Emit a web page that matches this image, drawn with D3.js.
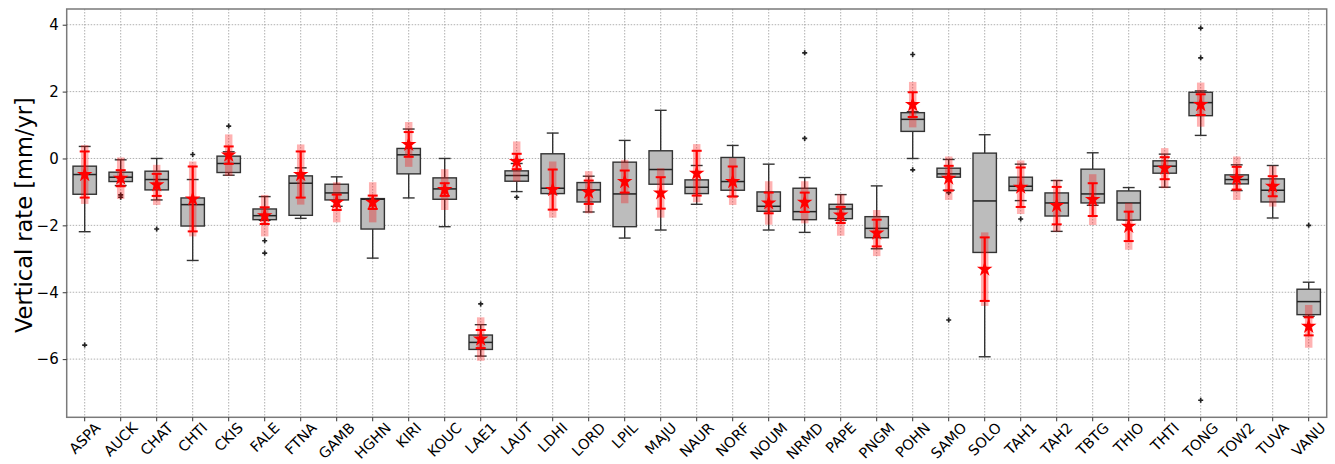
<!DOCTYPE html>
<html>
<head>
<meta charset="utf-8">
<script src="https://cdn.jsdelivr.net/npm/d3@7"></script>
<style>
  body { margin: 0; background: #fff; }
  text { font-family: "DejaVu Sans", sans-serif; fill: #000; }
</style>
</head>
<body>
<div id="figure_area"></div>
<script>
// ----- ----- ----- ----- ----- ----- ----- ----- -----
// DATA
var stations = ["ASPA", "AUCK", "CHAT", "CHTI", "CKIS", "FALE", "FTNA", "GAMB", "HGHN", "KIRI",
    "KOUC", "LAE1", "LAUT", "LDHI", "LORD", "LPIL", "MAJU", "NAUR", "NORF", "NOUM",
    "NRMD", "PAPE", "PNGM", "POHN", "SAMO", "SOLO", "TAH1", "TAH2", "TBTG", "THIO",
    "THTI", "TONG", "TOW2", "TUVA", "VANU"];

// boxplot (lower whisker, q1, median, q3, upper whisker)
var whiskLow = [-2.19, -0.81, -1.24, -3.05, -0.50, -1.85, -1.79, -1.43, -2.98, -1.18,
    -2.04, -5.91, -0.99, -1.05, -1.60, -2.38, -2.14, -1.37, -1.13, -2.14,
    -2.21, -1.85, -2.70, 0.00, -0.95, -5.93, -1.26, -2.18, -1.40, -1.84,
    -0.86, 0.69, -0.96, -1.78, -4.72];
var q1 = [-1.07, -0.69, -0.94, -2.02, -0.42, -1.83, -1.70, -1.24, -2.11, -0.46,
    -1.22, -5.71, -0.68, -1.05, -1.30, -2.04, -0.77, -1.05, -0.95, -1.58,
    -1.83, -1.80, -2.37, 0.81, -0.56, -2.81, -0.96, -1.72, -1.33, -1.84,
    -0.44, 1.28, -0.76, -1.30, -4.67];
var median = [-0.48, -0.56, -0.63, -1.38, -0.15, -1.71, -0.74, -1.03, -1.22, 0.11,
    -0.91, -5.50, -0.51, -0.89, -0.94, -1.06, -0.33, -0.86, -0.69, -1.43,
    -1.59, -1.51, -2.09, 1.17, -0.46, -1.27, -0.83, -1.33, -1.06, -1.33,
    -0.23, 1.67, -0.63, -0.95, -4.28];
var q3 = [-0.23, -0.41, -0.38, -1.18, 0.07, -1.51, -0.52, -0.77, -1.20, 0.30,
    -0.58, -5.28, -0.37, 0.14, -0.72, -0.11, 0.23, -0.64, 0.03, -1.00,
    -0.89, -1.37, -1.74, 1.37, -0.29, 0.16, -0.56, -1.03, -0.32, -0.97,
    -0.07, 1.98, -0.49, -0.61, -3.91];
var whiskHigh = [0.36, -0.04, 0.00, -0.63, 0.20, -1.14, -0.28, -0.55, -1.20, 0.88,
    0.00, -4.97, -0.15, 0.76, -0.53, 0.54, 1.44, -0.21, 0.39, -0.17,
    -0.57, -1.08, -0.82, 1.40, -0.03, 0.71, -0.17, -0.66, 0.17, -0.87,
    0.13, 2.02, -0.19, -0.21, -3.70];
var outliers = [[-5.58], [-1.09, -1.16], [-2.11], [0.12], [0.97], [-2.46, -2.83], [], [], [], [],
    [], [-4.35], [-1.16], [], [], [], [], [], [], [],
    [3.16, 0.60], [], [], [3.11, -0.34], [-4.83, -1.02], [], [-1.81], [], [], [],
    [], [3.90, 3.01, -7.23], [], [], [-2.00]];

// estimated rate (star) and its two uncertainties
var rate = [-0.48, -0.59, -0.79, -1.21, 0.10, -1.71, -0.48, -1.31, -1.31, 0.42,
    -0.93, -5.40, -0.09, -0.93, -1.01, -0.69, -1.03, -0.44, -0.69, -1.33,
    -1.31, -1.69, -2.23, 1.61, -0.59, -3.31, -0.86, -1.41, -1.23, -2.03,
    -0.29, 1.61, -0.59, -0.83, -5.02];
var sigmaInner = [0.69, 0.24, 0.33, 0.97, 0.26, 0.25, 0.69, 0.23, 0.20, 0.37,
    0.19, 0.27, 0.23, 0.60, 0.35, 0.33, 0.47, 0.67, 0.45, 0.31,
    0.29, 0.24, 0.40, 0.37, 0.37, 0.95, 0.59, 0.56, 0.49, 0.44,
    0.33, 0.31, 0.34, 0.30, 0.27];
var sigmaOuter = [0.88, 0.62, 0.60, 1.12, 0.62, 0.62, 0.90, 0.60, 0.60, 0.67,
    0.61, 0.65, 0.60, 0.84, 0.63, 0.65, 0.74, 0.87, 0.70, 0.65,
    0.63, 0.62, 0.69, 0.68, 0.65, 1.10, 0.80, 0.78, 0.76, 0.70,
    0.60, 0.66, 0.65, 0.61, 0.64];

var y_ticks = [-6, -4, -2, 0, 2, 4];

// ----- ----- ----- ----- ----- ----- ----- ----- -----
// FIGURE
const figure_size = { width: 1335, height: 464 };
const plot_area = { left: 66.7, right: 1326.7, top: 9, bottom: 417.3 };

var svg = d3.select("#figure_area")
    .append("svg")
    .attr("width", figure_size.width)
    .attr("height", figure_size.height);

var x_scale = d3.scaleBand()
    .domain(stations)
    .range([plot_area.left, plot_area.right])
    .padding(0);

var y_scale = d3.scaleLinear()
    .domain([-7.74, 4.47])
    .range([plot_area.bottom, plot_area.top]);

var bw = x_scale.bandwidth();
function cx(i) { return x_scale(stations[i]) + bw / 2; }

// grid
var grid = svg.append("g");
grid.selectAll("line.gx")
    .data(stations)
    .enter().append("line")
    .attr("x1", function (d) { return x_scale(d) + bw / 2; })
    .attr("x2", function (d) { return x_scale(d) + bw / 2; })
    .attr("y1", plot_area.top)
    .attr("y2", plot_area.bottom);
grid.selectAll("line.gy")
    .data(y_ticks)
    .enter().append("line")
    .attr("x1", plot_area.left)
    .attr("x2", plot_area.right)
    .attr("y1", function (d) { return y_scale(d); })
    .attr("y2", function (d) { return y_scale(d); });
grid.selectAll("line")
    .attr("stroke", "#a8a8a8")
    .attr("stroke-width", 0.9)
    .attr("stroke-dasharray", "1.5,1.5");

// boxplots
var idx = d3.range(stations.length);
var boxW = 0.65 * bw;
var capW = 0.33 * bw;
var boxColor = "#333";

var boxes = svg.append("g");
// whiskers
boxes.selectAll("line.wl")
    .data(idx).enter().append("line")
    .attr("x1", cx).attr("x2", cx)
    .attr("y1", function (i) { return y_scale(q1[i]); })
    .attr("y2", function (i) { return y_scale(whiskLow[i]); });
boxes.selectAll("line.wh")
    .data(idx).enter().append("line")
    .attr("x1", cx).attr("x2", cx)
    .attr("y1", function (i) { return y_scale(q3[i]); })
    .attr("y2", function (i) { return y_scale(whiskHigh[i]); });
// caps
boxes.selectAll("line.cl")
    .data(idx).enter().append("line")
    .attr("x1", function (i) { return cx(i) - capW / 2; })
    .attr("x2", function (i) { return cx(i) + capW / 2; })
    .attr("y1", function (i) { return y_scale(whiskLow[i]); })
    .attr("y2", function (i) { return y_scale(whiskLow[i]); });
boxes.selectAll("line.ch")
    .data(idx).enter().append("line")
    .attr("x1", function (i) { return cx(i) - capW / 2; })
    .attr("x2", function (i) { return cx(i) + capW / 2; })
    .attr("y1", function (i) { return y_scale(whiskHigh[i]); })
    .attr("y2", function (i) { return y_scale(whiskHigh[i]); });
boxes.selectAll("line")
    .attr("stroke", boxColor)
    .attr("stroke-width", 1.4);

// box body
boxes.selectAll("rect")
    .data(idx).enter().append("rect")
    .attr("x", function (i) { return cx(i) - boxW / 2; })
    .attr("width", boxW)
    .attr("y", function (i) { return y_scale(q3[i]); })
    .attr("height", function (i) { return y_scale(q1[i]) - y_scale(q3[i]); })
    .attr("fill", "#bcbcbc")
    .attr("stroke", boxColor)
    .attr("stroke-width", 1.4);

// medians
boxes.selectAll("line.med")
    .data(idx).enter().append("line")
    .attr("class", "med")
    .attr("x1", function (i) { return cx(i) - boxW / 2; })
    .attr("x2", function (i) { return cx(i) + boxW / 2; })
    .attr("y1", function (i) { return y_scale(median[i]); })
    .attr("y2", function (i) { return y_scale(median[i]); })
    .attr("stroke", "#222")
    .attr("stroke-width", 1.5);

// outliers
var flierData = [];
outliers.forEach(function (vals, i) {
    vals.forEach(function (v) { flierData.push({ i: i, v: v }); });
});
boxes.selectAll("path.flier")
    .data(flierData).enter().append("path")
    .attr("d", d3.symbol().type(d3.symbolCross).size(14))
    .attr("transform", function (d) { return "translate(" + cx(d.i) + "," + y_scale(d.v) + ")"; })
    .attr("fill", "#222");

// rates and uncertainties
var rates = svg.append("g");
rates.selectAll("line.outer")
    .data(idx).enter().append("line")
    .attr("x1", cx).attr("x2", cx)
    .attr("y1", function (i) { return y_scale(rate[i] + sigmaOuter[i]); })
    .attr("y2", function (i) { return y_scale(rate[i] - sigmaOuter[i]); })
    .attr("stroke", "red")
    .attr("stroke-opacity", 0.3)
    .attr("stroke-width", 7.5);

rates.selectAll("line.inner")
    .data(idx).enter().append("line")
    .attr("x1", cx).attr("x2", cx)
    .attr("y1", function (i) { return y_scale(rate[i] + sigmaInner[i]); })
    .attr("y2", function (i) { return y_scale(rate[i] - sigmaInner[i]); })
    .attr("stroke", "red")
    .attr("stroke-width", 2.2);

[1, -1].forEach(function (sgn) {
    rates.selectAll("line.cap" + sgn)
        .data(idx).enter().append("line")
        .attr("x1", function (i) { return cx(i) - 5; })
        .attr("x2", function (i) { return cx(i) + 5; })
        .attr("y1", function (i) { return y_scale(rate[i] + sgn * sigmaInner[i]); })
        .attr("y2", function (i) { return y_scale(rate[i] + sgn * sigmaInner[i]); })
        .attr("stroke", "red")
        .attr("stroke-width", 2);
});

rates.selectAll("path.star")
    .data(idx).enter().append("path")
    .attr("d", d3.symbol().type(d3.symbolStar).size(75))
    .attr("transform", function (i) { return "translate(" + cx(i) + "," + y_scale(rate[i]) + ")"; })
    .attr("fill", "red");

// frame
svg.append("rect")
    .attr("x", plot_area.left)
    .attr("y", plot_area.top)
    .attr("width", plot_area.right - plot_area.left)
    .attr("height", plot_area.bottom - plot_area.top)
    .attr("fill", "none")
    .attr("stroke", "#7a7a7a")
    .attr("stroke-width", 1.5);

// X axis
var x_axis = d3.axisBottom(x_scale).tickSizeInner(4).tickSizeOuter(0);
var gx = svg.append("g")
    .attr("transform", "translate(0," + plot_area.bottom + ")")
    .call(x_axis);
gx.select(".domain").remove();
gx.selectAll(".tick line").attr("stroke", "#333");
gx.selectAll(".tick text")
    .attr("font-size", 14.5)
    .attr("font-family", "DejaVu Sans")
    .attr("text-anchor", "middle")
    .attr("dy", "0.35em")
    .attr("y", 0)
    .attr("transform", function () {
        var L = this.getComputedTextLength();
        var half = (L + 11) * Math.SQRT1_2 / 2;
        return "translate(0," + (4 + half) + ") rotate(-45)";
    });

// Y axis
var y_axis = d3.axisLeft(y_scale).tickValues(y_ticks).tickSizeInner(4).tickSizeOuter(0).tickPadding(4);
var gy = svg.append("g")
    .attr("transform", "translate(" + plot_area.left + ",0)")
    .call(y_axis);
gy.select(".domain").remove();
gy.selectAll(".tick line").attr("stroke", "#333");
gy.selectAll(".tick text")
    .attr("font-size", 15)
    .attr("font-family", "DejaVu Sans");

svg.append("text")
    .attr("transform", "translate(24," + ((plot_area.top + plot_area.bottom) / 2 + 2) + ") rotate(-90)")
    .attr("text-anchor", "middle")
    .attr("dy", "0.35em")
    .attr("font-size", 22.5)
    .text("Vertical rate [mm/yr]");
</script>
</body>
</html>
